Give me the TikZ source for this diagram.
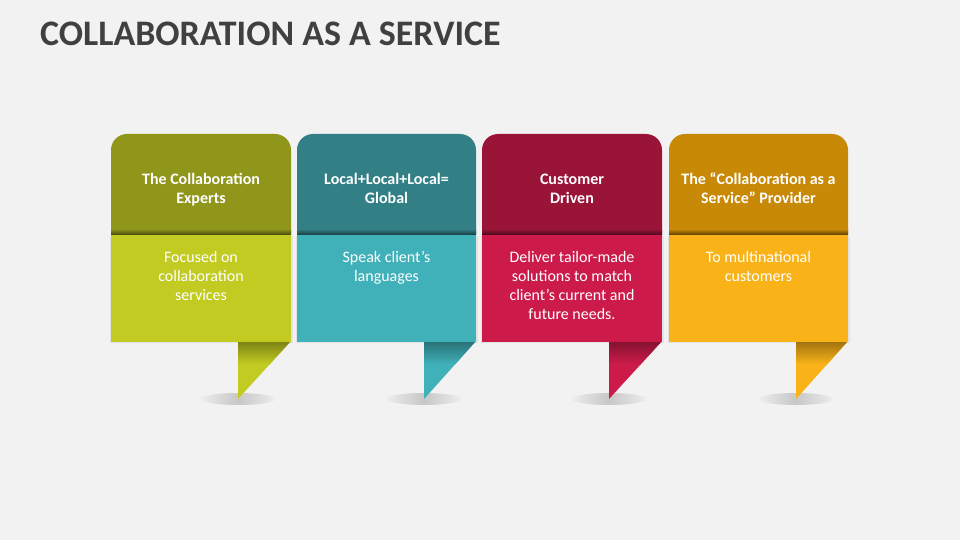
\documentclass[tikz,border=0pt]{standalone}
\usepackage{fontspec}
\setmainfont{Carlito}
\definecolor{bgc}{HTML}{F2F2F2}
\definecolor{titlec}{HTML}{404040}
\definecolor{hA}{HTML}{8F961A}
\definecolor{bA}{HTML}{C2CB21}
\definecolor{hB}{HTML}{328086}
\definecolor{bB}{HTML}{40B0B9}
\definecolor{hC}{HTML}{9A1438}
\definecolor{bC}{HTML}{CC1B4A}
\definecolor{hD}{HTML}{C88906}
\definecolor{bD}{HTML}{F9B318}
\begin{document}
\begin{tikzpicture}[x=1pt,y=-1pt,
  hdrtxt/.style={font=\bfseries\fontsize{16}{19}\selectfont, text=white, anchor=base, inner sep=0pt},
  bodytxt/.style={font=\fontsize{16}{19}\selectfont, text=white, anchor=base, inner sep=0pt}]
\fill[bgc] (0,0) rectangle (960,540);
\useasboundingbox (0,0) rectangle (960,540);
\node[anchor=base west, inner sep=0pt, font=\bfseries\fontsize{35.9}{40}\selectfont, text=titlec] (title) at (40,46) {COLLABORATION AS A SERVICE};

\foreach \i/\xa/\xb/\tx/\hc/\bc in {1/111/291/238/hA/bA, 2/297/476/424/hB/bB, 3/482/662/609/hC/bC, 4/669/848/796/hD/bD} {
  \shade[left color=black!7, right color=black!7, middle color=black!22] (\tx,399) ellipse [x radius=37.5pt, y radius=6pt];
  \fill[black,opacity=0.06] (\xa-1.5,236) rectangle (\xb+1.5,343);
  \fill[\bc] (\tx,341) -- (\xb,341) -- (\tx,399) -- cycle;
  \begin{scope}
    \clip (\tx,341) -- (\xb,341) -- (\tx,399) -- cycle;
    \shade[top color=\bc!65!black, bottom color=\bc] (\tx,342) rectangle (\xb,364);
  \end{scope}
  \fill[\bc] (\xa,234) rectangle (\xb,342);
  \fill[\hc] (\xa,234) [rounded corners=16pt] -- (\xa,134) -- (\xb,134) [sharp corners] -- (\xb,234) -- cycle;
  \shade[top color=\hc, bottom color=\hc!55!black] (\xa,229) rectangle (\xb,234);
}

% card 1
\node[hdrtxt] (h1a) at (201,184) {The Collaboration};
\node[hdrtxt] (h1b) at (201,203) {Experts};
\node[bodytxt] (b1a) at (201,262) {Focused on};
\node[bodytxt] (b1b) at (201,281) {collaboration};
\node[bodytxt] (b1c) at (201,300) {services};
% card 2
\node[hdrtxt] (h2a) at (386.5,184) {Local+Local+Local=};
\node[hdrtxt] (h2b) at (386.5,203) {Global};
\node[bodytxt] (b2a) at (386.5,262) {Speak client’s};
\node[bodytxt] (b2b) at (386.5,281) {languages};
% card 3
\node[hdrtxt] (h3a) at (572,184) {Customer};
\node[hdrtxt] (h3b) at (572,203) {Driven};
\node[bodytxt] (b3a) at (572,262) {Deliver tailor-made};
\node[bodytxt] (b3b) at (572,281) {solutions to match};
\node[bodytxt] (b3c) at (572,300) {client’s current and};
\node[bodytxt] (b3d) at (572,319) {future needs.};
% card 4
\node[hdrtxt] (h4a) at (758.5,184) {The “Collaboration as a};
\node[hdrtxt] (h4b) at (758.5,203) {Service” Provider};
\node[bodytxt] (b4a) at (758.5,262) {To multinational};
\node[bodytxt] (b4b) at (758.5,281) {customers};
\end{tikzpicture}
\end{document}
